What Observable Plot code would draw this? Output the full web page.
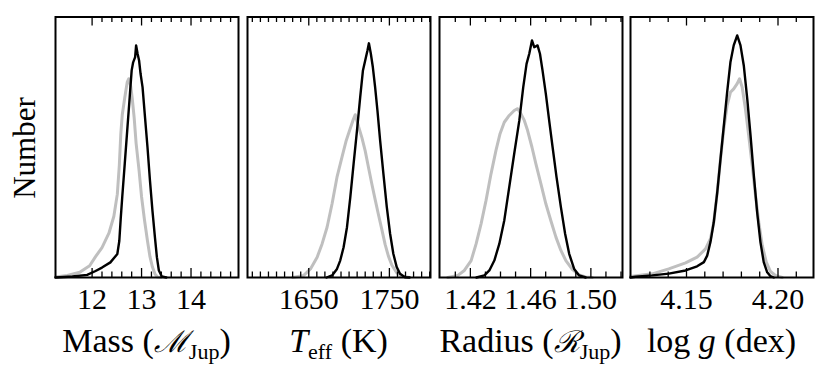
<!DOCTYPE html>
<html><head><meta charset="utf-8">
<script src="https://cdn.jsdelivr.net/npm/d3@7"></script>
<script src="https://cdn.jsdelivr.net/npm/@observablehq/plot@0.6"></script>
<style>
body{margin:0;background:#fff;}
#chart{position:relative;width:830px;height:375px;overflow:hidden;font-family:"Liberation Serif","Times New Roman",serif;color:#000;}
.panel{position:absolute;top:0;}
.title{position:absolute;top:324px;width:183px;text-align:center;font-size:34px;line-height:33px;white-space:nowrap;font-family:"Liberation Serif",serif;}
.sub{font-size:22px;position:relative;top:7px;}
.cal{font-family:"DejaVu Serif",serif;font-style:italic;font-size:30px;}
.ylab{position:absolute;left:25px;top:148px;transform:translate(-50%,-50%) rotate(-90deg);font-size:31px;white-space:nowrap;font-family:"Liberation Serif",serif;}
</style></head>
<body><div id="chart"></div>
<script>
// ---- Mass (M_Jup)
const massX_black = [11.26, 11.60, 11.90, 12.07, 12.20, 12.37, 12.51, 12.55, 12.58, 12.61, 12.66, 12.71, 12.76, 12.80, 12.83, 12.87, 12.89, 12.92, 12.95, 12.98, 13.02, 13.07, 13.12, 13.17, 13.22, 13.27, 13.31, 13.35, 13.41, 13.50];
const massN_black = [0, 0.004, 0.01, 0.025, 0.038, 0.058, 0.09, 0.14, 0.23, 0.31, 0.436, 0.564, 0.692, 0.795, 0.826, 0.846, 0.891, 0.859, 0.833, 0.782, 0.731, 0.615, 0.50, 0.372, 0.257, 0.155, 0.078, 0.027, 0.004, 0];
const massX_gray = [11.26, 11.50, 11.75, 11.95, 12.07, 12.20, 12.34, 12.44, 12.51, 12.55, 12.58, 12.61, 12.66, 12.71, 12.74, 12.78, 12.81, 12.85, 12.89, 12.95, 13.00, 13.06, 13.12, 13.17, 13.22, 13.27, 13.32, 13.40];
const massN_gray = [0.002, 0.008, 0.02, 0.045, 0.08, 0.115, 0.17, 0.235, 0.32, 0.43, 0.55, 0.625, 0.69, 0.75, 0.763, 0.735, 0.69, 0.615, 0.515, 0.41, 0.31, 0.22, 0.14, 0.08, 0.04, 0.014, 0.002, 0];
const massTicks = [12, 13, 14];
const massTickLabels = ["12", "13", "14"];
const massMinor = [12.2, 12.4, 12.6, 12.8, 13.2, 13.4, 13.6, 13.8, 14.2, 14.4, 14.6, 14.8];

// ---- Teff (K)
const teffX_black = [1672, 1678.9, 1685, 1689, 1693.2, 1697.4, 1701.5, 1705.6, 1709.8, 1713.8, 1717.2, 1720, 1722.8, 1724.6, 1727, 1729.5, 1732.3, 1735.2, 1738.5, 1742.6, 1746.8, 1750.9, 1754.9, 1759.1, 1763.2, 1769.4, 1775];
const teffN_black = [0, 0.008, 0.033, 0.065, 0.116, 0.193, 0.308, 0.436, 0.564, 0.692, 0.795, 0.833, 0.871, 0.899, 0.859, 0.807, 0.731, 0.641, 0.526, 0.398, 0.270, 0.168, 0.091, 0.040, 0.014, 0.001, 0];
const teffX_gray = [1630, 1643.8, 1652.1, 1660.4, 1666.5, 1672.7, 1678.9, 1685, 1691.2, 1696.5, 1700.6, 1704.8, 1707.7, 1711.7, 1715.9, 1720, 1724.1, 1728.3, 1732.3, 1736.4, 1740.6, 1744.7, 1748.8, 1753, 1759.1, 1765.3, 1775];
const teffN_gray = [0, 0.008, 0.033, 0.078, 0.129, 0.193, 0.283, 0.385, 0.462, 0.526, 0.564, 0.603, 0.625, 0.58, 0.537, 0.486, 0.422, 0.358, 0.30, 0.242, 0.185, 0.127, 0.082, 0.048, 0.018, 0.005, 0];
const teffTicks = [1650, 1750];
const teffTickLabels = ["1650", "1750"];
const teffMinor = [1580, 1590, 1600, 1610, 1620, 1630, 1640, 1660, 1670, 1680, 1690, 1700, 1710, 1720, 1730, 1740, 1760, 1770, 1780, 1790, 1800];

// ---- Radius (R_Jup)
const radX_black = [1.424, 1.4293, 1.4326, 1.4359, 1.4392, 1.4425, 1.4458, 1.4491, 1.4525, 1.4551, 1.4573, 1.4591, 1.4609, 1.4624, 1.4646, 1.4662, 1.4679, 1.4701, 1.4723, 1.4746, 1.4772, 1.4801, 1.4829, 1.4856, 1.4889, 1.4922, 1.4966];
const radN_black = [0, 0.008, 0.027, 0.065, 0.129, 0.219, 0.347, 0.475, 0.603, 0.731, 0.820, 0.859, 0.910, 0.884, 0.891, 0.859, 0.795, 0.705, 0.603, 0.500, 0.385, 0.270, 0.168, 0.091, 0.033, 0.008, 0];
const radX_gray = [1.405, 1.4117, 1.4160, 1.4205, 1.4238, 1.4271, 1.4304, 1.4337, 1.4370, 1.4397, 1.4425, 1.4458, 1.4491, 1.4514, 1.4536, 1.4558, 1.4580, 1.4609, 1.4635, 1.4668, 1.4701, 1.4734, 1.4768, 1.4801, 1.4834, 1.4878, 1.4922, 1.4966, 1.501];
const radN_gray = [0, 0.008, 0.027, 0.065, 0.129, 0.206, 0.296, 0.398, 0.488, 0.552, 0.596, 0.622, 0.641, 0.648, 0.628, 0.603, 0.564, 0.500, 0.436, 0.360, 0.283, 0.219, 0.155, 0.104, 0.065, 0.030, 0.010, 0.002, 0];
const radTicks = [1.42, 1.46, 1.50];
const radTickLabels = ["1.42", "1.46", "1.50"];
const radMinor = [1.41, 1.43, 1.44, 1.45, 1.47, 1.48, 1.49, 1.51, 1.52];

// ---- log g (dex)
const loggX_black = [4.1194, 4.1221, 4.1313, 4.1403, 4.1495, 4.1558, 4.1595, 4.1613, 4.1631, 4.1649, 4.1668, 4.1686, 4.1704, 4.1722, 4.1740, 4.1758, 4.1777, 4.1795, 4.1813, 4.1832, 4.1850, 4.1868, 4.1886, 4.1904, 4.1922, 4.1941, 4.1959, 4.1977];
const loggN_black = [0, 0.003, 0.008, 0.015, 0.027, 0.043, 0.059, 0.084, 0.136, 0.212, 0.327, 0.456, 0.583, 0.711, 0.826, 0.891, 0.929, 0.891, 0.814, 0.686, 0.545, 0.392, 0.251, 0.136, 0.059, 0.020, 0.005, 0];
const loggX_gray = [4.1194, 4.1313, 4.1403, 4.1495, 4.1558, 4.1604, 4.1631, 4.1649, 4.1668, 4.1686, 4.1704, 4.1722, 4.1740, 4.1758, 4.1777, 4.1790, 4.1804, 4.1822, 4.1840, 4.1859, 4.1877, 4.1895, 4.1914, 4.1936, 4.1959, 4.1986, 4.2023];
const loggN_gray = [0.004, 0.014, 0.033, 0.056, 0.078, 0.110, 0.149, 0.212, 0.327, 0.456, 0.571, 0.660, 0.711, 0.724, 0.744, 0.763, 0.731, 0.648, 0.545, 0.430, 0.315, 0.212, 0.123, 0.059, 0.023, 0.008, 0];
const loggTicks = [4.15, 4.20];
const loggTickLabels = ["4.15", "4.20"];
const loggMinor = [4.13, 4.14, 4.16, 4.17, 4.18, 4.19, 4.21];

const yLabel = "Number";

const panels = [
  {left: 55, domain: [11.26, 14.96], bx: massX_black, by: massN_black, gx: massX_gray, gy: massN_gray, ticks: massTicks, labels: massTickLabels, minor: massMinor,
   title: 'Mass (<span class="cal">ℳ</span><span class="sub">Jup</span>)'},
  {left: 247, domain: [1574, 1801], bx: teffX_black, by: teffN_black, gx: teffX_gray, gy: teffN_gray, ticks: teffTicks, labels: teffTickLabels, minor: teffMinor,
   title: '<i>T</i><span class="sub">eff</span> (K)'},
  {left: 439, domain: [1.3995, 1.521], bx: radX_black, by: radN_black, gx: radX_gray, gy: radN_gray, ticks: radTicks, labels: radTickLabels, minor: radMinor,
   title: 'Radius (<span class="cal">ℛ</span><span class="sub">Jup</span>)'},
  {left: 630, domain: [4.1194, 4.2194], bx: loggX_black, by: loggN_black, gx: loggX_gray, gy: loggN_gray, ticks: loggTicks, labels: loggTickLabels, minor: loggMinor,
   title: 'log <i>g</i> (dex)'}
];

const chart = document.getElementById("chart");
const M = 10, W = 183, TOP = 16.5, BOT = 277, H = 320;
const innerH = BOT - TOP;
const serif = '"Liberation Serif", "Times New Roman", serif';
for (const p of panels) {
  const svg = Plot.plot({
    width: W + 2 * M, height: H,
    marginLeft: M, marginRight: M, marginTop: TOP, marginBottom: H - BOT,
    x: {domain: p.domain},
    y: {domain: [0, 1], axis: null},
    style: {fontFamily: serif, background: "transparent", overflow: "visible", color: "#000"},
    marks: [
      Plot.line(p.gy, {x: p.gx, y: p.gy, stroke: "#bfbfbf", strokeWidth: 3}),
      Plot.line(p.by, {x: p.bx, y: p.by, stroke: "#000", strokeWidth: 2.4}),
      // minor ticks (inside, bottom & top)
      Plot.ruleX(p.minor, {x: d => d, insetTop: innerH - 5.5, stroke: "#000", strokeWidth: 1.3}),
      Plot.ruleX(p.minor, {x: d => d, insetBottom: innerH - 5.5, stroke: "#000", strokeWidth: 1.3}),
      // major ticks
      Plot.ruleX(p.ticks, {x: d => d, insetTop: innerH - 9, stroke: "#000", strokeWidth: 1.3}),
      Plot.ruleX(p.ticks, {x: d => d, insetBottom: innerH - 9, stroke: "#000", strokeWidth: 1.3}),
      Plot.axisX(p.ticks, {anchor: "bottom", tickSize: 0, tickPadding: 10, fontSize: 30, fontFamily: serif,
        tickFormat: d => p.labels[p.ticks.indexOf(d)], label: null}),
      Plot.frame({stroke: "#000", strokeWidth: 2})
    ]
  });
  svg.classList.add("panel");
  svg.style.left = (p.left - M) + "px";
  chart.appendChild(svg);
  const t = document.createElement("div");
  t.className = "title";
  t.style.left = p.left + "px";
  t.innerHTML = p.title;
  chart.appendChild(t);
}
const yl = document.createElement("div");
yl.className = "ylab";
yl.textContent = yLabel;
chart.appendChild(yl);
</script>
</body></html>
